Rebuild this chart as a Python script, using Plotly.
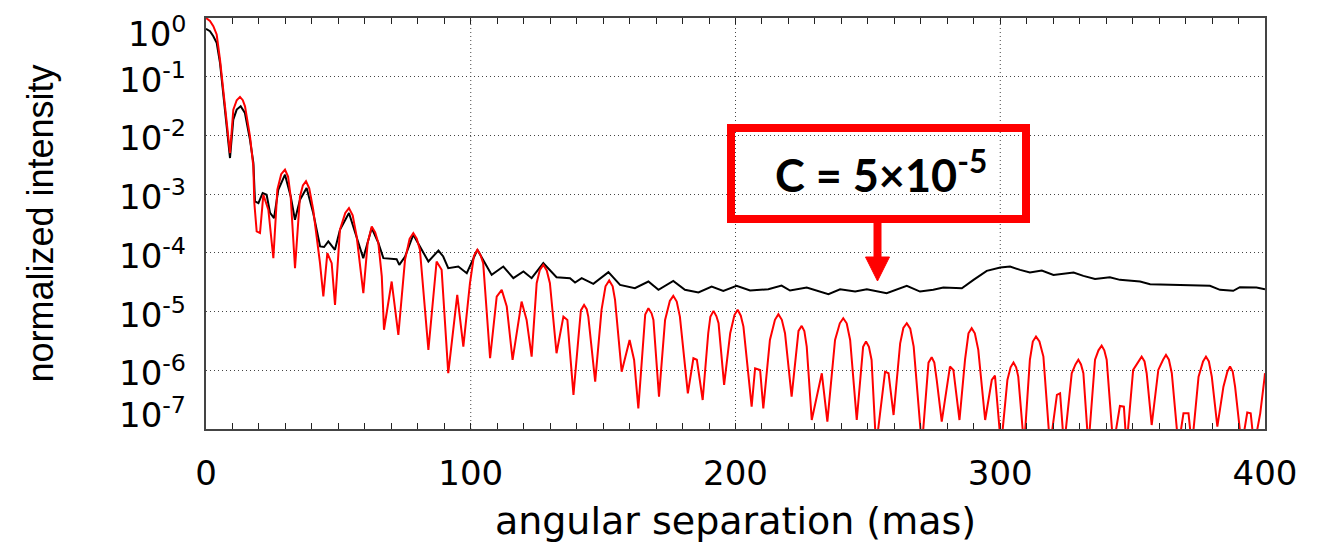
import plotly.graph_objects as go

# ---------------- data ----------------
# angular separation (mas) and log10(normalized intensity)
black_sep = [0, 1.5, 2.77, 4.03, 5.29, 6.55, 7.8, 9.07, 10.3, 11.6, 13.1, 14.7, 16.6, 17.9,
             18.5, 19.8, 21.4, 22.9, 24.2, 25.7, 27.3, 29.84, 32.0, 33.6, 35.5, 38.0, 40.5,
             43.1, 44.6, 46.2, 48.7, 50.6, 54.0, 56.9, 59.4, 62.6, 65.1, 67.0, 72.0, 73.0,
             75.2, 78.3, 81.5, 84.0, 87.8, 89.6, 91.5, 95.3, 98.5, 102.5, 105.4, 107.9, 112.3,
             116.1, 119.9, 123.0, 127.4, 132.4, 137.5, 139.4, 141.9, 146.3, 152.0, 156.4,
             162.0, 167.1, 170.9, 176.5, 180.9, 186.0, 191.0, 195.4, 200.4, 205.5, 212.4,
             217.4, 220.6, 226.9, 235.1, 239.5, 245.2, 249.6, 257.1, 264.7, 269.7, 274.7,
             278.5, 285.5, 289.9, 294.9, 300.0, 303.7, 307.5, 311.2, 315.7, 320.1, 327.7,
             331.4, 335.8, 341.4, 345.2, 352.8, 356.6, 362.9, 371.7, 379.2, 383.0, 388.0,
             390.5, 396.8, 400.0]
black_log10 = [-0.185, -0.225, -0.31, -0.423, -0.764, -1.276, -1.787, -2.385, -1.73, -1.56,
               -1.504, -1.617, -2.07, -2.47, -3.124, -3.152, -2.98, -3.01, -3.32, -3.408,
               -2.925, -2.669, -3.04, -3.436, -3.095, -2.896, -3.32, -3.89, -3.9, -3.806,
               -3.948, -3.607, -3.322, -3.72, -4.09, -3.578, -3.83, -4.09, -4.107, -4.204,
               -4.062, -3.692, -3.948, -4.147, -3.96, -4.062, -4.261, -4.233, -4.346, -3.948,
               -4.175, -4.375, -4.233, -4.431, -4.318, -4.431, -4.175, -4.414, -4.431, -4.505,
               -4.432, -4.528, -4.329, -4.545, -4.602, -4.488, -4.63, -4.477, -4.63, -4.675,
               -4.573, -4.647, -4.562, -4.642, -4.62, -4.557, -4.642, -4.591, -4.704, -4.62,
               -4.659, -4.62, -4.687, -4.562, -4.659, -4.63, -4.591, -4.602, -4.46, -4.307,
               -4.25, -4.233, -4.29, -4.335, -4.301, -4.375, -4.335, -4.392, -4.443, -4.414,
               -4.46, -4.488, -4.534, -4.545, -4.557, -4.562, -4.63, -4.647, -4.585, -4.591,
               -4.62]

red_sep = [
    0, 1.5, 2.77, 4.03, 5.29, 6.55, 7.8, 9.07, 10.32, 11.6,
    12.84, 13.9, 14.73, 16.62, 17.88, 18.26, 19.14, 20.4, 21.66, 23.55,
    25.44, 26.95, 28.4, 29.84, 31.0, 31.98, 33.62, 35.5, 36.6, 37.77,
    39.0, 40.5, 43.06, 44.32, 45.83, 47.47, 48.73, 50.6, 52.6, 54.0,
    55.4, 56.9, 59.43, 61.06, 62.6, 63.9, 65.1, 66.4, 67.23, 70.13,
    72.65, 75.17, 76.9, 78.3, 79.6, 80.8, 84.0, 87.1, 89.0, 91.5,
    94.9, 97.2, 99.7, 101.2, 102.5, 103.7, 104.7, 107.3, 109.8, 111.7,
    113.6, 115.8, 119.2, 121.1, 123.0, 124.9, 126.1, 127.4, 128.7, 129.9,
    132.4, 135.0, 136.5, 138.8, 140.6, 141.6, 142.8, 143.8, 144.4, 147.0,
    149.4, 150.9, 152.3, 153.6, 154.5, 157.0, 160.0, 161.7, 163.3, 165.2,
    165.9, 167.1, 168.3, 169.0, 171.1, 173.4, 175.2, 176.5, 177.8, 179.0,
    182.0, 184.1, 185.4, 187.6, 189.7, 190.5, 191.7, 192.8, 193.6, 195.7,
    198.0, 199.6, 200.8, 202.0, 203.0, 206.1, 207.4, 209.3, 210.5, 213.0,
    214.9, 216.2, 217.5, 218.7, 221.2, 223.8, 225.0, 226.0, 226.9, 228.8,
    232.6, 234.7, 237.6, 239.4, 240.7, 242.0, 243.3, 245.8, 248.2, 249.3,
    250.4, 251.4, 253.1, 256.5, 257.8, 259.7, 262.2, 263.4, 264.7, 266.0,
    267.3, 270.4, 272.9, 274.1, 275.1, 276.0, 277.9, 281.0, 282.3, 284.6,
    286.7, 288.0, 289.2, 290.4, 291.7, 294.3, 296.8, 298.0, 300.3, 302.7,
    303.9, 305.0, 306.0, 306.8, 309.0, 311.2, 312.3, 313.5, 314.8, 316.3,
    318.8, 321.4, 322.6, 324.1, 327.0, 328.4, 329.5, 330.5, 331.4, 333.3,
    335.8, 337.1, 338.3, 339.3, 340.2, 342.7, 345.2, 346.7, 347.7, 350.2,
    352.2, 353.4, 354.5, 355.3, 357.2, 359.7, 361.5, 362.6, 363.7, 364.8,
    367.3, 369.2, 371.1, 372.4, 374.9, 376.6, 377.7, 378.8, 379.9, 382.0,
    384.3, 385.8, 386.8, 387.8, 388.7, 391.2, 393.3, 394.6, 395.9, 398.2,
    399.8, 400.0]
red_log10 = [
    0.0, -0.05, -0.139, -0.281, -0.708, -1.276, -1.787, -2.30, -1.56, -1.40,
    -1.344, -1.40, -1.504, -2.015, -2.527, -3.152, -3.635, -3.663, -3.01, -3.266,
    -4.09, -2.925, -2.66, -2.584, -2.70, -3.04, -4.26, -3.04, -2.85, -2.78,
    -2.90, -3.266, -4.175, -4.74, -4.005, -4.175, -4.886, -3.607, -3.32, -3.237,
    -3.36, -3.72, -4.687, -3.83, -3.55, -3.65, -3.83, -4.40, -5.31, -4.488,
    -5.397, -4.118, -3.76, -3.663, -3.76, -3.948, -5.653, -4.147, -4.289, -6.05,
    -4.715, -5.597, -4.516, -4.05, -3.948, -4.04, -4.175, -5.795, -4.744, -4.63,
    -4.914, -5.824, -4.829, -5.142, -5.767, -4.516, -4.29, -4.204, -4.30, -4.516,
    -5.71, -5.085, -5.142, -6.42, -5.483, -4.98, -4.886, -4.96, -5.085, -6.193,
    -4.971, -4.57, -4.471, -4.57, -4.8, -6.023, -5.483, -5.824, -6.648, -5.369,
    -5.05, -4.943, -5.03, -5.142, -6.449, -5.142, -4.82, -4.732, -4.83, -5.085,
    -6.392, -5.795, -5.82, -6.506, -5.369, -5.09, -4.988, -5.08, -5.2, -6.25,
    -5.369, -5.06, -4.97, -5.07, -5.256, -6.62, -5.965, -5.994, -6.648, -5.483,
    -5.14, -5.045, -5.14, -5.369, -6.449, -5.33, -5.244, -5.33, -5.597, -6.847,
    -6.051, -6.875, -5.483, -5.20, -5.113, -5.20, -5.483, -6.847, -5.60, -5.511,
    -5.60, -5.824, -7.3, -6.023, -6.05, -6.762, -5.54, -5.28, -5.198, -5.29,
    -5.597, -7.3, -5.87, -5.778, -5.87, -6.165, -6.875, -5.937, -5.994, -6.847,
    -5.82, -5.37, -5.284, -5.37, -5.653, -6.847, -6.165, -6.091, -7.3, -6.165,
    -5.95, -5.869, -5.95, -6.108, -7.3, -5.82, -5.51, -5.426, -5.51, -5.767,
    -7.3, -6.42, -6.392, -7.3, -6.051, -5.90, -5.82, -5.90, -6.05, -7.3,
    -5.82, -5.66, -5.58, -5.66, -5.82, -7.3, -6.608, -6.62, -7.3, -5.994,
    -5.85, -5.767, -5.85, -6.05, -6.932, -5.994, -5.82, -5.739, -5.82, -6.05,
    -7.3, -6.733, -6.733, -7.3, -6.108, -5.85, -5.767, -5.85, -6.108, -6.96,
    -6.279, -6.02, -5.937, -6.02, -6.279, -7.3, -6.72, -6.733, -7.3, -6.733,
    -6.136, -6.05]

assert len(black_sep) == len(black_log10)
assert len(red_sep) == len(red_log10)

y_tick_exponents = [0, -1, -2, -3, -4, -5, -6, -7]
x_tick_vals = [0, 100, 200, 300, 400]
x_minor_step = 10
x_title = "angular separation (mas)"
y_title = "normalized intensity"
callout_text = "C = 5×10<sup>-5</sup>"

black_int = [10 ** v for v in black_log10]
red_int = [10 ** v for v in red_log10]

# tick marks every 10 mas, labels only at the hundreds
x_all_ticks = list(range(0, 401, x_minor_step))
x_all_text = [str(v) if v in x_tick_vals else " " for v in x_all_ticks]

# ---------------- layout geometry ----------------
W, H = 1320, 543
ML, MR, MT, MB = 206, 55, 18, 114
PW, PH = W - ML - MR, H - MT - MB


def paper(px, py):
    return (px - ML) / PW, (H - MB - py) / PH


fig = go.Figure()
fig.add_trace(go.Scatter(x=black_sep, y=black_int, mode="lines",
                         line=dict(color="#000000", width=2), showlegend=False))
fig.add_trace(go.Scatter(x=red_sep, y=red_int, mode="lines",
                         line=dict(color="#ff0000", width=2), showlegend=False))

tick_font = dict(family="DejaVu Sans", size=34, color="#000000")
grid_color = "#444444"
grid_dash = "1px,3px"

fig.update_layout(
    width=W, height=H,
    margin=dict(l=ML, r=MR, t=MT, b=MB, pad=0),
    paper_bgcolor="white", plot_bgcolor="white",
    showlegend=False,
    xaxis=dict(
        range=[0, 400], tickmode="array", tickvals=x_all_ticks, ticktext=x_all_text,
        tickangle=0, ticks="inside", ticklen=6, tickwidth=1, tickcolor="#222222",
        showline=True, linecolor="#444444", linewidth=2, mirror="allticks",
        showgrid=False, zeroline=False, tickfont=tick_font, ticklabelstandoff=13,
        automargin=False, layer="above traces",
        title=dict(text=x_title, font=dict(family="DejaVu Sans", size=38, color="#000000"),
                   standoff=26),
    ),
    yaxis=dict(
        type="log", range=[-7, 0], tickvals=[10 ** k for k in y_tick_exponents],
        showticklabels=False, ticks="", showline=True, linecolor="#444444", linewidth=2,
        mirror=True, zeroline=False, automargin=False,
        showgrid=True, gridcolor=grid_color, griddash=grid_dash, gridwidth=1,
        title=dict(text=y_title, font=dict(family="Liberation Sans", size=36, color="#000000"),
                   standoff=139),
    ),
)

# vertical dotted grid lines at the labelled hundreds (interior only)
for v in x_tick_vals[1:-1]:
    fig.add_shape(type="line", xref="x", yref="paper", x0=v, x1=v, y0=0, y1=1,
                  line=dict(color=grid_color, width=1, dash=grid_dash), layer="below")

# y tick labels as 10^k (end labels pulled inside like the original)
for k in y_tick_exponents:
    shift = -1
    if k == 0:
        shift = -14
    elif k == -7:
        shift = 16
    fig.add_annotation(xref="paper", yref="y", x=0, y=k, text=f"10<sup>{k}</sup>",
                       xanchor="right", yanchor="middle", xshift=-18, yshift=shift,
                       showarrow=False, font=tick_font)

# callout box, arrow and text
bx0, by0 = paper(731, 219)
bx1, by1 = paper(1026, 128)
fig.add_shape(type="rect", xref="paper", yref="paper", x0=bx0, y0=by0, x1=bx1, y1=by1,
              line=dict(color="#ff0000", width=8), fillcolor="rgba(0,0,0,0)", layer="above")
sx, sy0 = paper(877.5, 223)
_, sy1 = paper(877.5, 259)
fig.add_shape(type="line", xref="paper", yref="paper", x0=sx, y0=sy0, x1=sx, y1=sy1,
              line=dict(color="#ff0000", width=8))
t1 = paper(865.5, 257)
t2 = paper(889.5, 257)
t3 = paper(877.5, 281)
fig.add_shape(type="path", xref="paper", yref="paper",
              path=f"M {t1[0]},{t1[1]} L {t2[0]},{t2[1]} L {t3[0]},{t3[1]} Z",
              fillcolor="#ff0000", line=dict(color="#ff0000", width=1))
tx, ty = paper(881, 172)
fig.add_annotation(xref="paper", yref="paper", x=tx, y=ty, text=f"<b>{callout_text}</b>",
                   showarrow=False, xanchor="center", yanchor="middle",
                   font=dict(family="Lato", size=45, color="#000000"))

fig.write_html("out.html")
